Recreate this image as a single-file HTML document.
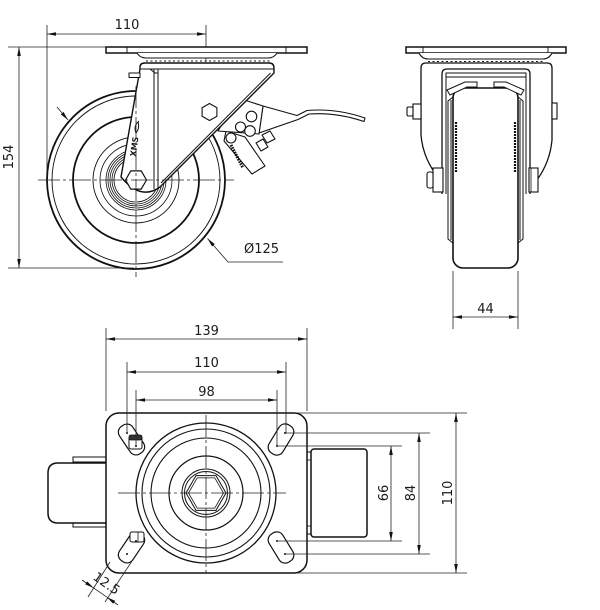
<!DOCTYPE html>
<html><head><meta charset="utf-8"><style>
html,body{margin:0;padding:0;background:#fff;}
svg{display:block;}
text{font-family:"DejaVu Sans","Liberation Sans",sans-serif;font-size:13px;fill:#1a1a1a;}
</style></head><body>
<svg width="600" height="610" viewBox="0 0 600 610" xmlns="http://www.w3.org/2000/svg">
<defs>
<marker id="a" viewBox="0 0 10 4" refX="10" refY="2" markerWidth="9" markerHeight="3.6" markerUnits="userSpaceOnUse" orient="auto-start-reverse"><path d="M0,0 L10,2 L0,4 z" fill="#111"/></marker>
</defs>

<!-- ================= SIDE VIEW ================= -->
<g fill="none" stroke="#222" stroke-width="0.8">
  <line x1="47" y1="25" x2="47" y2="176"/>
  <line x1="206" y1="25" x2="206" y2="62"/>
  <line x1="47" y1="34" x2="206" y2="34" marker-start="url(#a)" marker-end="url(#a)"/>
  <line x1="8" y1="47" x2="106" y2="47"/>
  <line x1="8" y1="268" x2="134" y2="268"/>
  <line x1="19" y1="47" x2="19" y2="268" marker-start="url(#a)" marker-end="url(#a)"/>
  <polyline points="283,262 228,262 207.5,238.5" marker-end="url(#a)"/>
  <line x1="57" y1="107" x2="68" y2="120" marker-end="url(#a)"/>
</g>
<text x="127" y="29" text-anchor="middle">110</text>
<text transform="translate(13,157) rotate(-90)" text-anchor="middle">154</text>
<text x="244" y="253">Ø125</text>

<!-- wheel -->
<g fill="none" stroke="#111">
  <circle cx="136" cy="180" r="89" stroke-width="1.8"/>
  <circle cx="136" cy="180" r="84" stroke-width="0.9"/>
  <circle cx="136" cy="180" r="63" stroke-width="1.8"/>
  <circle cx="136" cy="180" r="43" stroke-width="0.9"/>
  <circle cx="136" cy="180" r="36" stroke-width="0.8"/>
  <circle cx="136" cy="180" r="30" stroke-width="0.8"/>
  <circle cx="136" cy="180" r="28" stroke-width="0.8"/>
  <circle cx="136" cy="180" r="26" stroke-width="0.8"/>
  <circle cx="136" cy="180" r="24" stroke-width="0.8"/>
  <circle cx="136" cy="180" r="22" stroke-width="0.8"/>
</g>

<!-- brake mechanism -->
<g fill="#fff" stroke="#111" stroke-width="1.1" stroke-linejoin="round">
  <polygon points="226,131 245,137 265,166 252,174 224,141"/>
  <path d="M231,145 L243,168" stroke-width="3" stroke-dasharray="1.6 1" fill="none"/>
  <polygon points="262,135 270,131 275,139 267,143"/>
  <polygon points="256,143 263,139 268,147 261,151"/>
  <path d="M263,106 L297,115.5 L307,110.5 Q336,108 365,118 L364,121.5 Q336,112 309,114 L298,119.5 L259,133 Z"/>
  <polygon points="238,98 263,106 259,134 218,131"/>
  <circle cx="251.5" cy="116.5" r="5.3"/>
  <circle cx="240.5" cy="127" r="5"/>
  <circle cx="250" cy="131" r="5.3"/>
  <circle cx="231" cy="138" r="5"/>
</g>

<!-- plate, race -->
<g stroke="#111" fill="#fff">
  <rect x="106" y="47" width="201" height="6" stroke-width="1.5"/>
  <line x1="127" y1="47" x2="127" y2="53" stroke-width="0.9"/>
  <line x1="286" y1="47" x2="286" y2="53" stroke-width="0.9"/>
  <path d="M137,53 Q140,58 146,58 L268,58 Q274,58 277,53" stroke-width="1.1"/>
  <line x1="146" y1="61" x2="270" y2="61" stroke-width="1" stroke-dasharray="2 2.5"/>
</g>

<!-- bracket -->
<g stroke="#111" stroke-linejoin="round">
  <path d="M140,69 L140,67 Q140,63 145,63 L269,63 Q274,63 274,68 L274,73 L160,187 Q141,201 121,177 Z" fill="#fff" stroke-width="1.4"/>
  <rect x="129" y="73" width="11" height="4.5" fill="#fff" stroke-width="1"/>
  <g fill="none" stroke-width="1">
    <line x1="140" y1="69" x2="274" y2="69"/>
    <line x1="154" y1="69" x2="154" y2="189"/>
    <line x1="158" y1="69" x2="158" y2="188"/>
    <line x1="270.5" y1="73" x2="161" y2="183"/>
    <path d="M150,69 L155,73 L158,73"/>
  </g>
  <polygon points="209.5,103.5 216.9,107.75 216.9,116.25 209.5,120.5 202.1,116.25 202.1,107.75" fill="#fff" stroke-width="1.1"/>
  <polygon points="146.5,180 141.25,189.09 130.75,189.09 125.5,180 130.75,170.91 141.25,170.91" fill="#fff" stroke-width="1.2"/>
  <path d="M139,121 Q133,126 136,133 Q140,128 138,122" fill="none" stroke-width="1"/>
</g>
<text transform="translate(137,147) rotate(-82)" text-anchor="middle" style="font-size:8px;font-weight:bold">XMS</text>

<!-- side view center lines -->
<g stroke="#222" stroke-width="0.8" stroke-dasharray="22 3 3 3" fill="none">
  <line x1="38" y1="180" x2="234" y2="180"/>
  <line x1="136" y1="86" x2="136" y2="277"/>
</g>

<!-- ================= FRONT VIEW ================= -->
<g stroke="#111" fill="#fff">
  <rect x="406" y="47" width="160" height="6" stroke-width="1.5"/>
  <line x1="423" y1="47" x2="423" y2="53" stroke-width="0.9"/>
  <line x1="548" y1="47" x2="548" y2="53" stroke-width="0.9"/>
  <path d="M419,53 Q422,59 428,59 L543,59 Q549,59 552,53" stroke-width="1.1"/>
  <line x1="428" y1="61.5" x2="545" y2="61.5" stroke-width="1" stroke-dasharray="2 2.5"/>
  <path d="M441,181 Q423,160 421,135 L421,68 Q421,63 426,63 L547,63 Q552,63 552,68 L552,140 Q550,162 537,180" stroke-width="1.3"/>
  <!-- bolts -->
  <rect x="413" y="104" width="8" height="15" stroke-width="1.1"/>
  <rect x="407" y="107" width="6" height="9" rx="1.5" stroke-width="1.1"/>
  <rect x="552" y="103" width="5" height="16" stroke-width="1.1"/>
  <!-- wheel -->
  <rect x="453" y="88" width="65" height="180" rx="10" stroke-width="1.6"/>
  <g fill="none" stroke-width="1">
    <path d="M453,97 L448,101 L448,239 L453,243"/>
    <path d="M518,97 L523,101 L523,239 L518,243"/>
    <line x1="451" y1="100" x2="451" y2="240"/>
    <line x1="520" y1="100" x2="520" y2="240"/>
    <line x1="456" y1="122" x2="456" y2="172" stroke-width="2.2" stroke-dasharray="2 1"/>
    <line x1="515" y1="122" x2="515" y2="172" stroke-width="2.2" stroke-dasharray="2 1"/>
  </g>
  <!-- inner fork -->
  <path d="M442,194 L442,74 Q442,69 447,69 L525,69 Q530,69 530,74 L530,194" fill="none" stroke-width="1.3"/>
  <path d="M446,194 L446,73 L526,73 L526,194" fill="none" stroke-width="1"/>
  <line x1="446" y1="77" x2="526" y2="77" stroke-width="1"/>
  <path d="M447,90 L465,82 L477,82 L477,87 L467,87 L450,95 Z" stroke-width="1"/>
  <path d="M524,90 L506,82 L494,82 L494,87 L504,87 L521,95 Z" stroke-width="1"/>
  <!-- lower bolts -->
  <rect x="433" y="168" width="10" height="24" stroke-width="1.1"/>
  <rect x="427" y="172" width="6" height="16" rx="2" stroke-width="1.1"/>
  <rect x="529" y="168" width="9" height="24" stroke-width="1.1"/>
  <line x1="531" y1="168" x2="531" y2="192" stroke-width="0.8"/>
</g>
<g fill="none" stroke="#222" stroke-width="0.8">
  <line x1="453" y1="271" x2="453" y2="329"/>
  <line x1="518" y1="271" x2="518" y2="329"/>
  <line x1="453" y1="317" x2="518" y2="317" marker-start="url(#a)" marker-end="url(#a)"/>
</g>
<text x="485.5" y="313" text-anchor="middle">44</text>

<!-- ================= TOP VIEW ================= -->
<!-- side wheel -->
<g stroke="#111" fill="#fff">
  <rect x="73" y="457" width="34" height="5" stroke-width="1"/>
  <rect x="73" y="523" width="34" height="4" stroke-width="1"/>
  <path d="M107,463 L58,463 Q48,463 48,473 L48,513 Q48,523 58,523 L107,523" stroke-width="1.5"/>
  <!-- brake -->
  <rect x="305.5" y="452" width="7" height="82" stroke-width="1"/>
  <line x1="305.5" y1="460" x2="312.5" y2="460" stroke-width="0.8"/>
  <line x1="305.5" y1="526" x2="312.5" y2="526" stroke-width="0.8"/>
  <rect x="311" y="449" width="56" height="88" rx="3" stroke-width="1.5"/>
  <!-- plate -->
  <rect x="106" y="413" width="201" height="160" rx="13" stroke-width="1.5"/>
</g>
<g fill="none" stroke="#111">
  <circle cx="206" cy="493" r="70" stroke-width="1.3"/>
  <circle cx="206" cy="493" r="64" stroke-width="1.1"/>
  <circle cx="206" cy="493" r="55" stroke-width="1.1"/>
  <circle cx="206" cy="493" r="37" stroke-width="1.2"/>
  <circle cx="206" cy="493" r="24" stroke-width="1"/>
  <circle cx="206" cy="493" r="21.5" stroke-width="1"/>
  <polygon points="226,493 216,510.32 196,510.32 186,493 196,475.68 216,475.68" stroke-width="1"/>
  <polygon points="223.5,493 214.75,508.16 197.25,508.16 188.5,493 197.25,477.84 214.75,477.84" stroke-width="0.8"/>
</g>
<!-- slots -->
<g stroke="#111" fill="#fff" stroke-width="1.2">
  <rect x="-16.5" y="-8" width="33" height="16" rx="7" transform="translate(281,439.5) rotate(-58.4)"/>
  <rect x="-16.5" y="-8" width="33" height="16" rx="7" transform="translate(131.5,439.5) rotate(56)"/>
  <rect x="-16.5" y="-8" width="33" height="16" rx="7" transform="translate(131.5,547.5) rotate(-56)"/>
  <rect x="-16.5" y="-8" width="33" height="16" rx="7" transform="translate(281,547.5) rotate(58.4)"/>
  <rect x="129" y="437" width="13" height="12" rx="2" stroke-width="1"/>
  <rect x="129" y="435" width="13" height="5" rx="2" fill="#333" stroke-width="0.8"/>
  <rect x="130" y="532" width="14" height="10" rx="2" stroke-width="1"/>
  <line x1="138" y1="532" x2="138" y2="542" stroke-width="0.8"/>
</g>
<g fill="#111">
  <circle cx="277" cy="446" r="1"/><circle cx="285" cy="433" r="1"/>
  <circle cx="277" cy="541" r="1"/><circle cx="285" cy="554" r="1"/>
  <circle cx="127" cy="433" r="1"/><circle cx="136" cy="446" r="1"/>
  <circle cx="127" cy="554" r="1"/><circle cx="136" cy="541" r="1"/>
</g>
<!-- top view center lines -->
<g stroke="#222" stroke-width="0.8" stroke-dasharray="22 3 3 3" fill="none">
  <line x1="118" y1="493" x2="286" y2="493"/>
  <line x1="206" y1="415" x2="206" y2="573"/>
</g>
<!-- top view dimensions -->
<g fill="none" stroke="#222" stroke-width="0.8">
  <line x1="106" y1="328" x2="106" y2="411"/>
  <line x1="307" y1="328" x2="307" y2="411"/>
  <line x1="106" y1="339" x2="307" y2="339" marker-start="url(#a)" marker-end="url(#a)"/>
  <line x1="127" y1="362" x2="127" y2="433"/>
  <line x1="286" y1="362" x2="286" y2="433"/>
  <line x1="127" y1="372" x2="286" y2="372" marker-start="url(#a)" marker-end="url(#a)"/>
  <line x1="136" y1="390" x2="136" y2="446"/>
  <line x1="277" y1="390" x2="277" y2="446"/>
  <line x1="136" y1="400" x2="277" y2="400" marker-start="url(#a)" marker-end="url(#a)"/>

  <line x1="295" y1="413" x2="467" y2="413"/>
  <line x1="295" y1="573" x2="467" y2="573"/>
  <line x1="456" y1="413" x2="456" y2="573" marker-start="url(#a)" marker-end="url(#a)"/>
  <line x1="286" y1="433" x2="430" y2="433"/>
  <line x1="286" y1="554" x2="430" y2="554"/>
  <line x1="419" y1="433" x2="419" y2="554" marker-start="url(#a)" marker-end="url(#a)"/>
  <line x1="277" y1="446" x2="402" y2="446"/>
  <line x1="277" y1="541" x2="402" y2="541"/>
  <line x1="391" y1="446" x2="391" y2="541" marker-start="url(#a)" marker-end="url(#a)"/>

  <!-- 12.5 -->
  <line x1="110" y1="562" x2="88" y2="597"/>
  <line x1="132" y1="561" x2="105" y2="602"/>
  <line x1="82" y1="580" x2="93.6" y2="587.9" marker-end="url(#a)"/>
  <line x1="118" y1="605" x2="106.8" y2="597.1" marker-end="url(#a)"/>
  <line x1="93.6" y1="587.9" x2="106.8" y2="597.1"/>
</g>
<text x="206.5" y="335" text-anchor="middle">139</text>
<text x="206.5" y="367" text-anchor="middle">110</text>
<text x="206.5" y="396" text-anchor="middle">98</text>
<text transform="translate(388,493) rotate(-90)" text-anchor="middle">66</text>
<text transform="translate(415,493) rotate(-90)" text-anchor="middle">84</text>
<text transform="translate(452,493) rotate(-90)" text-anchor="middle">110</text>
<text transform="translate(104,587) rotate(35)" text-anchor="middle">12.5</text>
</svg>
</body></html>
